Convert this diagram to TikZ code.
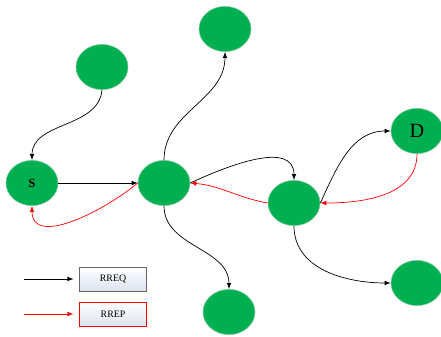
\documentclass[tikz,border=0pt]{standalone}
\usepackage{fontspec}
\setmainfont{Liberation Serif}
\usepackage{tikz}
\usetikzlibrary{positioning,shapes.geometric,arrows,calc}
\definecolor{nodegreen}{RGB}{0,176,80}
\definecolor{legendfill}{RGB}{220,227,240}
\tikzstyle{host} = [ellipse, minimum width=1.3cm, minimum height=1.13cm, inner sep=0pt, fill=nodegreen, draw=nodegreen!70!gray!60, line width=0.4pt]
\tikzstyle{legend-box} = [rectangle, minimum width=1.68cm, minimum height=0.6cm, inner sep=0pt, top color=white, bottom color=legendfill, font=\scriptsize]
\tikzstyle{rreq} = [->,>=latex,black,line width=0.5pt]
\tikzstyle{rrep} = [->,>=latex,red,line width=0.5pt]

\begin{document}
\begin{tikzpicture}[x=0.025cm,y=-0.025cm]
        \useasboundingbox (0,0) rectangle (441,336);
        \node (upper-left) [host] at (102,67) {};
        \node (source) [host] at (32,183) {\small\textbf{S}};
        \node (middle) [host] at (164,183) {};
        \node (top) [host] at (225,29) {};
        \node (bottom) [host] at (229,312) {};
        \node (relay) [host] at (294,203) {};
        \node (destination) [host] at (417,131) {\Large D};
        \node (bottom-right) [host] at (417,283) {};

        \node (rreq-box) [legend-box, draw=black!60] at (113,279) {RREQ};
        \node (rrep-box) [legend-box, draw=red] at (113,314) {RREP};
        \coordinate (rreq-start) at (24,279);
        \coordinate (rrep-start) at (24,314);

        \draw [rreq] (upper-left.south) to[out=-95,in=90] (source.north);
        \draw [rreq] (source.east) -- (middle.west);
        \draw [rrep] (middle.west) to[out=-140,in=-90] (source.south);
        \draw [rreq] (middle.north) to[out=90,in=-90] (top.south);
        \draw [rreq] (middle.south) to[out=-90,in=90] (bottom.north);
        \draw [rreq] (middle.east) to[out=25,in=90] (relay.north);
        \draw [rrep] (relay.west) to[out=170,in=-5] (middle.east);
        \draw [rreq] (relay.east) to[out=65,in=180] (destination.west);
        \draw [rrep] (destination.south) to[out=-90,in=0] (relay.east);
        \draw [rreq] (relay.south) to[out=-90,in=180] (bottom-right.west);

        \draw [rreq] (rreq-start) -- ([xshift=-4]rreq-box.west);
        \draw [rrep] (rrep-start) -- ([xshift=-4]rrep-box.west);
    \end{tikzpicture}
\end{document}
